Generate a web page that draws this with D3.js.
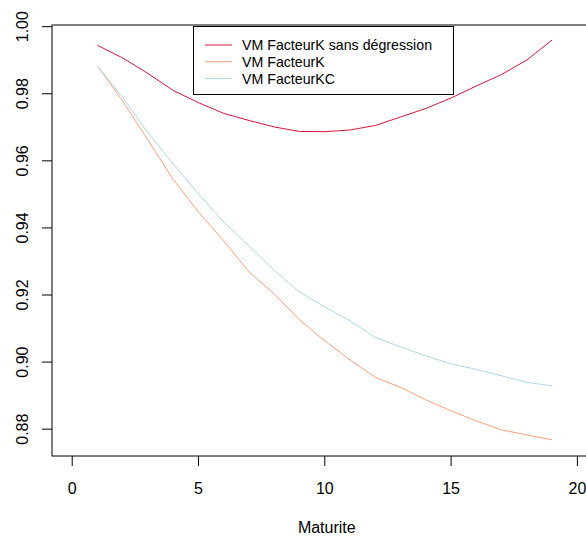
<!DOCTYPE html>
<html>
<head>
<meta charset="utf-8">
<script src="https://cdn.jsdelivr.net/npm/d3@7"></script>
<style>
  body { margin: 0; background: #fff; }
  svg { display: block; font-family: "Liberation Sans", Arial, sans-serif; }
</style>
</head>
<body>
<svg id="chart" width="586" height="537"></svg>
<script>
const maturite = [1,2,3,4,5,6,7,8,9,10,11,12,13,14,15,16,17,18,19];
const vmSansDegression = [0.99445,0.99066,0.98604,0.98098,0.97734,0.97415,0.97203,0.97010,0.96876,0.96870,0.96920,0.97054,0.97308,0.97561,0.97874,0.98232,0.98575,0.99007,0.99603];
const vmFacteurK = [0.98828,0.97785,0.96617,0.95445,0.94476,0.93612,0.92688,0.92032,0.91257,0.90631,0.90065,0.89543,0.89245,0.88873,0.88545,0.88247,0.87978,0.87828,0.87681];
const vmFacteurKC = [0.98828,0.97889,0.96831,0.95907,0.95013,0.94178,0.93463,0.92733,0.92092,0.91645,0.91228,0.90736,0.90453,0.90185,0.89947,0.89783,0.89589,0.89396,0.89291];
const seriesNames = ["VM FacteurK sans dégression","VM FacteurK","VM FacteurKC"];
const seriesColors = ["#DC143C","#FFA07A","#ADD8E6"];
const xTicks = [0,5,10,15,20];
const yTicks = [0.88,0.90,0.92,0.94,0.96,0.98,1.00];
const xLabel = "Maturite";

(function () {
const series = [vmSansDegression, vmFacteurK, vmFacteurKC];
const svg = d3.select("#chart");

const mL = 52, mT = 25, mR = 597.6, mB = 456;
const x = d3.scaleLinear().domain([-0.8, 20.8]).range([mL, mR]);
const y = d3.scaleLinear().domain([0.8720, 1.0005]).range([mB, mT]);

// lines
const line = d3.line().x((d, i) => x(maturite[i])).y(d => y(d));
series.forEach((s, k) => {
  svg.append("path").datum(s)
    .attr("d", line)
    .attr("fill", "none")
    .attr("stroke", seriesColors[k])
    .attr("stroke-width", 1);
});

// frame
svg.append("rect")
  .attr("x", mL).attr("y", mT)
  .attr("width", mR - mL).attr("height", mB - mT)
  .attr("fill", "none").attr("stroke", "#000").attr("stroke-width", 1);

// x axis
const xAxis = svg.append("g").attr("transform", `translate(0,${mB})`);
xAxis.selectAll("line").data(xTicks).enter().append("line")
  .attr("x1", d => x(d)).attr("x2", d => x(d))
  .attr("y1", 0).attr("y2", 10)
  .attr("stroke", "#000");
xAxis.selectAll("text").data(xTicks).enter().append("text")
  .attr("x", d => x(d)).attr("y", 38)
  .attr("text-anchor", "middle")
  .attr("font-size", 16)
  .text(d => d);

// y axis
const yAxis = svg.append("g").attr("transform", `translate(${mL},0)`);
yAxis.selectAll("line").data(yTicks).enter().append("line")
  .attr("x1", -10).attr("x2", 0)
  .attr("y1", d => y(d)).attr("y2", d => y(d))
  .attr("stroke", "#000");
yAxis.selectAll("text").data(yTicks).enter().append("text")
  .attr("transform", d => `translate(-24,${y(d)}) rotate(-90)`)
  .attr("text-anchor", "middle")
  .attr("font-size", 16)
  .text(d => d3.format(".2f")(d));

// x label
svg.append("text")
  .attr("x", (x(0) + x(20)) / 2 + 2).attr("y", 533)
  .attr("text-anchor", "middle")
  .attr("font-size", 16)
  .text(xLabel);

// legend
const lg = svg.append("g");
lg.append("rect")
  .attr("x", 193.5).attr("y", 26.5)
  .attr("width", 260).attr("height", 68)
  .attr("fill", "#fff").attr("stroke", "#000");
seriesNames.forEach((n, k) => {
  const yy = 45 + k * 16.8;
  lg.append("line")
    .attr("x1", 205).attr("x2", 232)
    .attr("y1", yy).attr("y2", yy)
    .attr("stroke", seriesColors[k]).attr("stroke-width", 1);
  lg.append("text")
    .attr("x", 242).attr("y", yy + 5)
    .attr("font-size", 14.2)
    .text(n);
});
})();
</script>
</body>
</html>
